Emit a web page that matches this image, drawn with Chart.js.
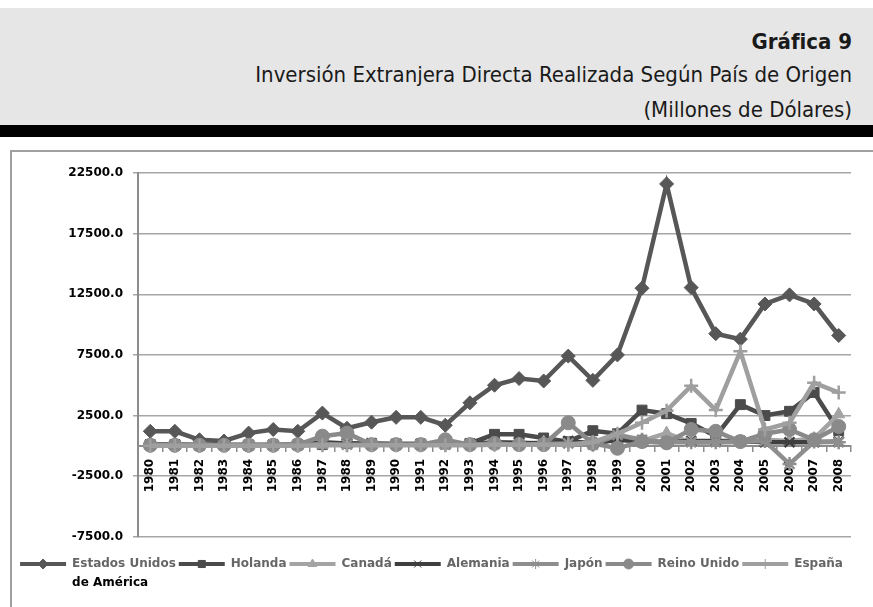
<!DOCTYPE html>
<html lang="es">
<head>
<meta charset="utf-8">
<title>Gráfica 9</title>
<script src="https://cdn.jsdelivr.net/npm/chart.js@4.4.0/dist/chart.umd.min.js"></script>
<style>
  body { margin: 0; width: 873px; height: 607px; background: #fff; overflow: hidden; position: relative; }
  #cabecera {
    position: absolute; left: 0; top: 8px; width: 873px; height: 117px;
    background: #e6e6e6; border-bottom: 12px solid #000;
    font-family: "DejaVu Sans Condensed", "Liberation Sans Narrow", sans-serif;
    color: #1a1a1a;
  }
  #cabecera div { position: absolute; right: 21px; white-space: nowrap; font-size: 22px; }
  #numero { top: 21px; font-weight: bold; }
  #titulo { top: 54px; }
  #unidad { top: 89px; }
  #marco {
    position: absolute; left: 10px; top: 150px; width: 863px; height: 457px;
    border-left: 2px solid #a0a0a0; border-top: 2px solid #a0a0a0;
  }
  #grafica { display: block; }
</style>
</head>
<body>
<div id="cabecera">
  <div id="numero">Gráfica 9</div>
  <div id="titulo">Inversión Extranjera Directa Realizada Según País de Origen</div>
  <div id="unidad">(Millones de Dólares)</div>
</div>
<div id="marco"><canvas id="grafica" width="861" height="455"></canvas></div>
<script>
// años del eje x
const anios = ['1980', '1981', '1982', '1983', '1984', '1985', '1986', '1987', '1988', '1989',
  '1990', '1991', '1992', '1993', '1994', '1995', '1996', '1997', '1998', '1999',
  '2000', '2001', '2002', '2003', '2004', '2005', '2006', '2007', '2008'];

// millones de dólares por país
const estadosUnidos = [1200, 1200, 500, 400, 1050, 1350, 1200, 2700, 1450, 1950, 2350, 2350, 1700, 3550, 5000,
  5550, 5350, 7400, 5400, 7500, 13000, 21600, 13050, 9250, 8800, 11700, 12450, 11700, 9100];
const holanda = [100, 100, 50, 50, 50, 50, 100, 100, 200, 150, 150, 150, 150, 200, 950,
  950, 650, 350, 1250, 1000, 2950, 2650, 1850, 800, 3400, 2500, 2850, 4400, 1250];
const canada = [50, 50, 50, 50, 50, 50, 50, 100, 150, 100, 100, 100, 100, 100, 200,
  150, 300, 200, 250, 500, 400, 1050, 250, 300, 300, 500, 400, 600, 2600];
const alemania = [100, 100, 100, 100, 100, 100, 100, 300, 200, 200, 150, 150, 150, 150, 300,
  250, 200, 400, 200, 500, 350, 300, 400, 400, 400, 300, 300, 300, 350];
const japon = [50, 50, 50, 50, 50, 50, 50, 150, 100, 100, 100, 100, 100, 100, 150,
  100, 150, 200, 100, 900, 500, 300, 300, 300, 350, 400, -1500, 350, 300];
const reinoUnido = [50, 50, 50, 50, 50, 50, 100, 800, 1050, 100, 100, 100, 500, 100, 200,
  100, 100, 1900, 200, -200, 350, 250, 1350, 1200, 350, 1000, 1350, 500, 1600];
const espana = [0, 0, 0, 0, 0, 0, 0, 50, 50, 50, 50, 50, 50, 50, 100,
  100, 100, 100, 300, 1000, 1900, 2900, 4950, 2950, 7800, 1350, 1900, 5200, 4400];

const paises = ['Estados Unidos de América', 'Holanda', 'Canadá', 'Alemania', 'Japón', 'Reino Unido', 'España'];
const series = [estadosUnidos, holanda, canada, alemania, japon, reinoUnido, espana];
const colores = ['#575757', '#4b4b4b', '#a4a4a4', '#3f3f3f', '#8e8e8e', '#8a8a8a', '#9f9f9f'];
const marcadores = ['rectRot', 'rect', 'triangle', 'crossRot', 'star', 'circle', 'cross'];
const trazo = (m) => ['crossRot', 'star', 'cross'].includes(m);

const fuente = { family: '"DejaVu Sans", sans-serif', weight: 'bold', size: 12 };

const datasets = series.map((valores, i) => ({
  label: paises[i],
  data: valores,
  borderColor: colores[i],
  backgroundColor: colores[i],
  borderWidth: 4.5,
  pointStyle: marcadores[i],
  pointRadius: 7,
  pointBorderWidth: trazo(marcadores[i]) ? 2.5 : 1,
  pointBorderColor: colores[i],
  pointBackgroundColor: colores[i],
  tension: 0,
  order: series.length - 1 - i   // las series posteriores quedan encima
}));

// marcador sobre la línea de la leyenda y segunda línea del primer rótulo
const leyendaExcel = {
  id: 'leyendaExcel',
  afterDraw(chart) {
    const leg = chart.legend;
    if (!leg || !leg.legendHitBoxes) return;
    const ctx = chart.ctx;
    const bw = leg.options.labels.boxWidth;
    leg.legendItems.forEach((item, k) => {
      const hb = leg.legendHitBoxes[k];
      const i = item.datasetIndex;
      const cx = hb.left + bw / 2;
      const cy = hb.top + hb.height / 2;
      ctx.save();
      ctx.fillStyle = colores[i];
      ctx.strokeStyle = colores[i];
      Chart.helpers.drawPoint(ctx, {
        pointStyle: marcadores[i], radius: 5, rotation: 0,
        borderWidth: trazo(marcadores[i]) ? 2 : 1
      }, cx, cy);
      ctx.restore();
      if (i === 0) {
        ctx.save();
        ctx.font = 'bold 12px "DejaVu Sans", sans-serif';
        ctx.fillStyle = '#000';
        ctx.textBaseline = 'middle';
        ctx.fillText('de América', hb.left + bw + 6, cy + 19);
        ctx.restore();
      }
    });
  }
};

new Chart(document.getElementById('grafica'), {
  type: 'line',
  data: { labels: anios, datasets },
  options: {
    responsive: false,
    animation: false,
    layout: { padding: { left: 0, top: 21, right: 22, bottom: 27 } },
    plugins: {
      title: { display: false },
      tooltip: { enabled: false },
      legend: {
        position: 'bottom',
        title: { display: true, text: '', font: { size: 1 }, padding: { top: 17, bottom: 0 } },
        labels: {
          boxWidth: 46,
          boxHeight: 4,
          padding: 3,
          color: '#000',
          font: { family: '"DejaVu Sans", sans-serif', weight: 'bold', size: 12 },
          sort: (a, b) => a.datasetIndex - b.datasetIndex,
          generateLabels: (chart) => chart.data.datasets.map((ds, i) => ({
            text: i === 0 ? 'Estados Unidos' : ds.label,
            fillStyle: colores[i],
            strokeStyle: colores[i],
            lineWidth: 0,
            datasetIndex: i,
            hidden: false
          }))
        }
      }
    },
    scales: {
      x: {
        position: { y: 0 },
        offset: true,
        grid: { display: true, offset: true, drawOnChartArea: false, drawTicks: true, tickLength: 5, color: '#8c8c8c', lineWidth: 1.5 },
        border: { color: '#8c8c8c', width: 2 },
        ticks: { color: '#000', font: fuente, minRotation: 90, maxRotation: 90, padding: 8, autoSkip: false }
      },
      y: {
        min: -7500,
        max: 22500,
        afterFit: (scale) => { scale.width = 126; },
        grid: { color: '#a6a6a6', lineWidth: 1.5, tickLength: 5 },
        border: { color: '#8c8c8c', width: 2 },
        ticks: {
          stepSize: 5000,
          color: '#000',
          font: fuente,
          padding: 10,
          callback: (v) => v.toFixed(1)
        }
      }
    }
  },
  plugins: [leyendaExcel]
});
</script>
</body>
</html>
